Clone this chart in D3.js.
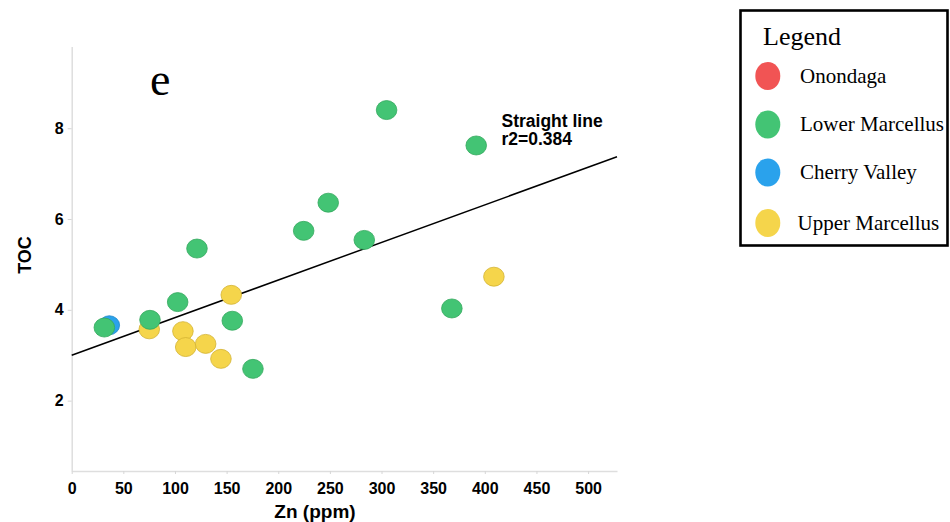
<!DOCTYPE html>
<html>
<head>
<meta charset="utf-8">
<script src="https://cdn.jsdelivr.net/npm/d3@7"></script>
<style>
  html, body { margin: 0; padding: 0; background: #fff; }
  svg { display: block; }
</style>
</head>
<body>
<svg id="chart" width="950" height="522"></svg>
<script>
// Zn (ppm) versus TOC (wt%) by stratigraphic unit
const lowerMarcellusZn  = [31.6, 75.8, 102.6, 155.5, 175.5, 121.3, 224.6, 248.4, 283.3, 304.9, 391.7, 368.1];
const lowerMarcellusToc = [3.61, 3.78, 4.17, 3.76, 2.70, 5.35, 5.74, 6.36, 5.54, 8.40, 7.62, 4.03];
const upperMarcellusZn  = [75.1, 107.7, 110.4, 129.7, 144.5, 154.5, 408.8];
const upperMarcellusToc = [3.57, 3.53, 3.18, 3.25, 2.92, 4.33, 4.73];
const cherryValleyZn  = [36.4];
const cherryValleyToc = [3.66];
const onondagaZn  = [];
const onondagaToc = [];

const xTicks = [0, 50, 100, 150, 200, 250, 300, 350, 400, 450, 500];
const yTicks = [2, 4, 6, 8];

// Least-squares trend line (as reported)
const fitIntercept = 3.0;
const fitSlope = 0.00828;
const fitR2 = 0.384;

const legendNames  = ["Onondaga", "Lower Marcellus", "Cherry Valley", "Upper Marcellus"];
const legendColors = ["#f15454", "#43c474", "#2aa2ec", "#f5d54b"];

const svg = d3.select("#chart");
const sans = "'Liberation Sans', Arial, sans-serif";
const serif = "'Liberation Serif', 'Times New Roman', serif";

const x = d3.scaleLinear().domain([0, 528]).range([71.7, 617]);
const y = d3.scaleLinear().domain([0.45, 9.8]).range([471, 46.5]);

// axes
const xAxis = svg.append("g").attr("transform", `translate(0,${y.range()[0]})`)
  .call(d3.axisBottom(x).tickValues(xTicks).tickSize(3).tickPadding(5).tickSizeOuter(0));
const yAxis = svg.append("g").attr("transform", `translate(${x.range()[0]},0)`)
  .call(d3.axisLeft(y).tickValues(yTicks).tickSize(4).tickPadding(4).tickSizeOuter(0));

[xAxis, yAxis].forEach(g => {
  g.select(".domain").attr("stroke", "#dedede").attr("stroke-width", 1.5);
  g.selectAll(".tick line").attr("stroke", "#d6d6d6");
  g.selectAll(".tick text")
    .attr("fill", "#000")
    .attr("font-family", sans)
    .attr("font-weight", "bold")
    .attr("font-size", 16);
});
xAxis.selectAll(".tick text").attr("dy", "0.95em");

// axis titles
svg.append("text")
  .attr("x", 315).attr("y", 518)
  .attr("text-anchor", "middle")
  .attr("font-family", sans).attr("font-weight", "bold").attr("font-size", 19)
  .text("Zn (ppm)");
svg.append("text")
  .attr("transform", "translate(30.5,255) rotate(-90)")
  .attr("text-anchor", "middle")
  .attr("font-family", sans).attr("font-weight", "bold").attr("font-size", 18)
  .text("TOC");

// panel letter
svg.append("text")
  .attr("x", 150).attr("y", 95)
  .attr("font-family", serif).attr("font-size", 46)
  .text("e");

// trend line across the x domain
const xd = x.domain();
svg.append("line")
  .attr("x1", x(xd[0])).attr("y1", y(fitIntercept + fitSlope * xd[0]))
  .attr("x2", x(xd[1])).attr("y2", y(fitIntercept + fitSlope * xd[1]))
  .attr("stroke", "#000").attr("stroke-width", 1.5);

// trend annotation
const note = svg.append("text")
  .attr("font-family", sans).attr("font-weight", "bold").attr("font-size", 17.5);
note.append("tspan").attr("x", 501.5).attr("y", 126.5).text("Straight line");
note.append("tspan").attr("x", 501.5).attr("y", 145).text("r2=" + fitR2);

// points: drawn per series so that later series sit on top
const series = [
  { zn: onondagaZn, toc: onondagaToc, fill: "#f15454", stroke: "#d04040" },
  { zn: cherryValleyZn, toc: cherryValleyToc, fill: "#2aa2ec", stroke: "#1f88c8" },
  { zn: upperMarcellusZn, toc: upperMarcellusToc, fill: "#f5d54b", stroke: "#d3b232" },
  { zn: lowerMarcellusZn, toc: lowerMarcellusToc, fill: "#43c474", stroke: "#33a85d" }
];
series.forEach(s => {
  svg.append("g").selectAll("ellipse")
    .data(d3.zip(s.zn, s.toc))
    .join("ellipse")
    .attr("cx", d => x(d[0]))
    .attr("cy", d => y(d[1]))
    .attr("rx", 10.3).attr("ry", 9.5)
    .attr("fill", s.fill)
    .attr("stroke", s.stroke).attr("stroke-width", 0.8);
});

// legend
const legend = svg.append("g");
legend.append("rect")
  .attr("x", 740.5).attr("y", 10.5).attr("width", 207).attr("height", 235)
  .attr("fill", "#fff").attr("stroke", "#000").attr("stroke-width", 2.6);
legend.append("text")
  .attr("x", 763).attr("y", 45)
  .attr("font-family", serif).attr("font-size", 26)
  .text("Legend");
const itemY = [76, 124.5, 172.5, 223];
const labelX = [800, 800, 800, 797.5];
legendNames.forEach((name, i) => {
  legend.append("ellipse")
    .attr("cx", 767.8).attr("cy", itemY[i])
    .attr("rx", 12.5).attr("ry", 14)
    .attr("fill", legendColors[i]);
  legend.append("text")
    .attr("x", labelX[i]).attr("y", itemY[i] + 6.5)
    .attr("font-family", serif).attr("font-size", 21)
    .text(name);
});
</script>
</body>
</html>
